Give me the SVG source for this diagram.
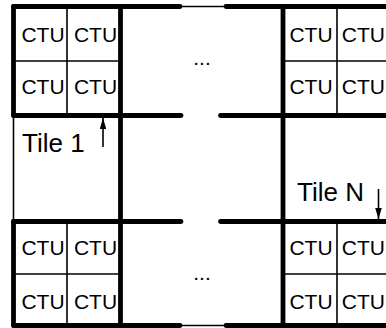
<svg xmlns="http://www.w3.org/2000/svg" width="386" height="328" viewBox="0 0 386 328">
  <style>
    .thick { stroke: #000; stroke-width: 4.8; stroke-linecap: round; fill: none; }
    .thin { stroke: #000; stroke-width: 1.6; fill: none; }
    .ctu { font-family: "Liberation Sans", Arial, sans-serif; font-size: 21px; fill: #000; text-anchor: middle; }
    .ctu-edge { font-family: "Liberation Sans", Arial, sans-serif; font-size: 21px; fill: #000; text-anchor: end; }
    .tile { font-family: "Liberation Sans", Arial, sans-serif; font-size: 26px; fill: #000; }
    .dots { font-family: "Liberation Sans", Arial, sans-serif; font-size: 21px; fill: #000; text-anchor: middle; }
  </style>
  <defs>
    <marker id="head" viewBox="0 0 10 6" refX="10" refY="3" markerWidth="11" markerHeight="6.6" markerUnits="userSpaceOnUse" orient="auto">
      <path d="M0,0 L10,3 L0,6 Z" fill="#000"/>
    </marker>
  </defs>
  <rect width="386" height="328" fill="#fff"/>

  <!-- tile boundaries -->
  <g id="tile-boundaries">
    <!-- top and bottom edges: thick ends joined by a thin span -->
    <line class="thin" x1="180" y1="6.5" x2="226" y2="6.5"/>
    <line class="thick" x1="13.5" y1="6.5" x2="180" y2="6.5"/>
    <line class="thick" x1="226" y1="6.5" x2="390" y2="6.5"/>
    <line class="thin" x1="180" y1="325.5" x2="226" y2="325.5"/>
    <line class="thick" x1="13.5" y1="325.5" x2="180" y2="325.5"/>
    <line class="thick" x1="226" y1="325.5" x2="390" y2="325.5"/>
    <!-- horizontal tile rows -->
    <line class="thick" x1="13.5" y1="115.5" x2="181" y2="115.5"/>
    <line class="thick" x1="220.5" y1="115.5" x2="390" y2="115.5"/>
    <line class="thick" x1="13.5" y1="221.5" x2="181" y2="221.5"/>
    <line class="thick" x1="220.5" y1="221.5" x2="390" y2="221.5"/>
    <!-- left edge -->
    <line class="thick" x1="13.5" y1="6.5" x2="13.5" y2="115.5"/>
    <line class="thin" x1="13.5" y1="115.5" x2="13.5" y2="221.5"/>
    <line class="thick" x1="13.5" y1="221.5" x2="13.5" y2="325.5"/>
    <!-- tile column boundaries -->
    <line class="thick" x1="120.5" y1="6.5" x2="120.5" y2="325.5"/>
    <line class="thick" x1="283" y1="6.5" x2="283" y2="325.5"/>
  </g>

  <!-- CTU block, top left -->
  <g id="ctu-top-left">
    <line class="thin" x1="67" y1="6.5" x2="67" y2="115.5"/>
    <line class="thin" x1="13.5" y1="61" x2="120.5" y2="61"/>
    <text class="ctu" x="43" y="41.5">CTU</text>
    <text class="ctu" x="95.5" y="41.5">CTU</text>
    <text class="ctu" x="43" y="94">CTU</text>
    <text class="ctu" x="95.5" y="94">CTU</text>
  </g>

  <!-- CTU block, top right -->
  <g id="ctu-top-right">
    <line class="thin" x1="337" y1="6.5" x2="337" y2="115.5"/>
    <line class="thin" x1="283" y1="61" x2="390" y2="61"/>
    <text class="ctu" x="311" y="41.5">CTU</text>
    <text class="ctu-edge" x="385" y="41.5">CTU</text>
    <text class="ctu" x="311" y="94">CTU</text>
    <text class="ctu-edge" x="385" y="94">CTU</text>
  </g>

  <!-- CTU block, bottom left -->
  <g id="ctu-bottom-left">
    <line class="thin" x1="67" y1="221.5" x2="67" y2="325.5"/>
    <line class="thin" x1="13.5" y1="274" x2="120.5" y2="274"/>
    <text class="ctu" x="43" y="254.5">CTU</text>
    <text class="ctu" x="95.5" y="254.5">CTU</text>
    <text class="ctu" x="43" y="308.5">CTU</text>
    <text class="ctu" x="95.5" y="308.5">CTU</text>
  </g>

  <!-- CTU block, bottom right -->
  <g id="ctu-bottom-right">
    <line class="thin" x1="337" y1="221.5" x2="337" y2="325.5"/>
    <line class="thin" x1="283" y1="274" x2="390" y2="274"/>
    <text class="ctu" x="311" y="254.5">CTU</text>
    <text class="ctu-edge" x="385" y="254.5">CTU</text>
    <text class="ctu" x="311" y="308.5">CTU</text>
    <text class="ctu-edge" x="385" y="308.5">CTU</text>
  </g>

  <!-- elided columns -->
  <g id="ellipsis-top"><text class="dots" x="202" y="65">...</text></g>
  <g id="ellipsis-bottom"><text class="dots" x="202" y="280">...</text></g>

  <!-- tile labels -->
  <g id="tile-1"><text class="tile" x="22" y="152">Tile 1</text></g>
  <g id="tile-n"><text class="tile" x="297" y="201">Tile N</text></g>

  <!-- pointer arrows -->
  <g id="connectors">
    <line class="thin" x1="103" y1="147" x2="103" y2="118" marker-end="url(#head)"/>
    <line class="thin" x1="378.5" y1="189" x2="378.5" y2="219" marker-end="url(#head)"/>
  </g>
</svg>
